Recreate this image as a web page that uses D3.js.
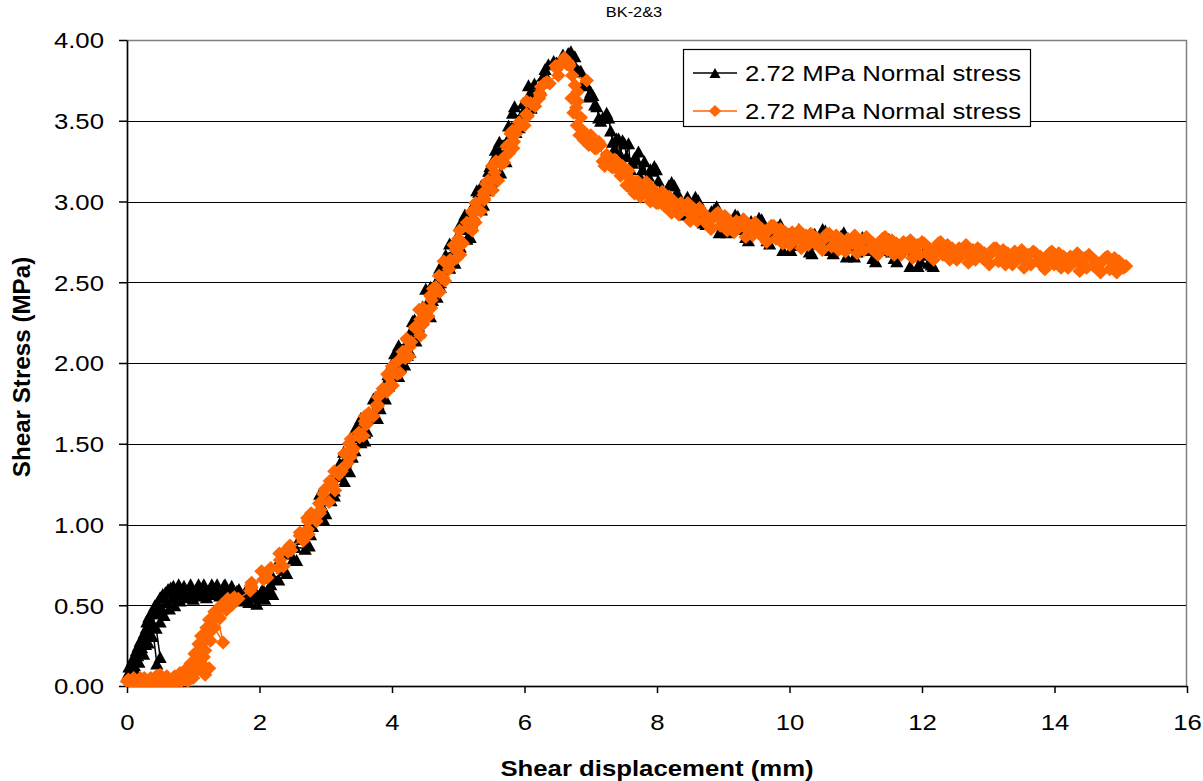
<!DOCTYPE html>
<html>
<head>
<meta charset="utf-8">
<script src="https://cdn.jsdelivr.net/npm/d3@7"></script>
<style>
  html, body { margin: 0; padding: 0; background: #fff; }
  svg { display: block; }
  text { font-family: Arial, "Liberation Sans", sans-serif; fill: #000; }
</style>
</head>
<body>
<svg id="chart" width="1203" height="781"></svg>
<script>
// ---- data (x = shear displacement mm, y = shear stress MPa) ----
const chartTitle = 'BK-2&3';
const seriesNames = ['2.72 MPa Normal stress', '2.72 MPa Normal stress'];
const xTicks = [0, 2, 4, 6, 8, 10, 12, 14, 16];
const yTicks = [0, 0.5, 1, 1.5, 2, 2.5, 3, 3.5, 4];

// black triangles
const blackSeating = [[0.00,0.06],[0.02,0.08],[0.03,0.12],[0.05,0.10],[0.06,0.04],[0.08,0.16],[0.10,0.18],[0.11,0.13],[0.12,0.10],[0.14,0.22],[0.16,0.19],[0.17,0.25],[0.18,0.15],[0.20,0.28],[0.22,0.24],[0.23,0.30],[0.25,0.20],[0.26,0.33],[0.28,0.26],[0.29,0.36],[0.32,0.27],[0.30,0.40],[0.34,0.33],[0.33,0.43],[0.38,0.31],[0.36,0.45],[0.45,0.14],[0.50,0.18],[0.44,0.36],[0.40,0.38],[0.42,0.50],[0.40,0.47],[0.50,0.40],[0.47,0.45],[0.50,0.55],[0.46,0.52],[0.56,0.44],[0.53,0.48],[0.58,0.58],[0.54,0.57],[0.64,0.48],[0.60,0.52],[0.66,0.61],[0.62,0.60],[0.72,0.50],[0.68,0.54],[0.76,0.60],[0.70,0.62],[0.80,0.53],[0.74,0.55],[0.86,0.62],[0.78,0.63],[0.90,0.55],[0.83,0.57],[0.96,0.63],[0.88,0.59],[1.00,0.54],[0.93,0.58],[1.06,0.61],[0.98,0.60],[1.10,0.56],[1.03,0.57],[1.16,0.63],[1.08,0.63],[1.20,0.55],[1.13,0.59],[1.26,0.60],[1.18,0.61],[1.30,0.57],[1.23,0.58],[1.36,0.63],[1.28,0.63],[1.40,0.56],[1.33,0.59],[1.46,0.62],[1.38,0.60],[1.50,0.55],[1.43,0.58],[1.56,0.60],[1.48,0.63],[1.60,0.54],[1.53,0.58],[1.66,0.59],[1.58,0.62],[1.72,0.53],[1.63,0.57],[1.78,0.58],[1.69,0.60],[1.84,0.52],[1.75,0.56],[1.90,0.57],[1.81,0.60],[1.96,0.51],[1.87,0.55],[2.02,0.58],[1.93,0.59],[2.08,0.54],[1.99,0.55],[2.14,0.61],[2.05,0.60],[2.20,0.57],[2.11,0.57],[2.17,0.63]];
const blackRise = [[2.29,0.66],[2.15,0.67],[2.21,0.67],[2.41,0.70],[2.37,0.72],[2.35,0.73],[2.31,0.79],[2.51,0.79],[2.56,0.78],[2.41,0.82],[2.54,0.86],[2.69,0.85],[2.75,0.87],[2.65,0.91],[2.61,0.92],[2.77,0.94],[2.80,0.99],[2.69,0.97],[2.72,0.98],[2.97,1.03],[2.87,1.06],[2.85,1.06],[3.00,1.07],[2.97,1.09],[2.93,1.12],[3.08,1.15],[2.91,1.19],[2.98,1.18],[3.13,1.18],[3.13,1.21],[3.10,1.26],[3.11,1.27],[3.28,1.27],[3.12,1.30],[3.16,1.32],[3.36,1.33],[3.30,1.39],[3.27,1.39],[3.21,1.38],[3.40,1.42],[3.44,1.46],[3.27,1.45],[3.40,1.47],[3.53,1.51],[3.59,1.52],[3.49,1.54],[3.44,1.59],[3.59,1.57],[3.62,1.58],[3.50,1.63],[3.53,1.66],[3.78,1.66],[3.69,1.67],[3.66,1.69],[3.82,1.72],[3.79,1.75],[3.75,1.79],[3.90,1.78],[3.72,1.78],[3.80,1.81],[3.95,1.86],[3.95,1.87],[3.92,1.87],[3.93,1.90],[4.10,1.92],[3.94,1.93],[3.99,1.99],[4.19,1.99],[4.13,1.98],[4.09,2.02],[4.04,2.06],[4.23,2.05],[4.27,2.07],[4.10,2.11],[4.22,2.12],[4.36,2.14],[4.41,2.19],[4.31,2.17],[4.26,2.18],[4.40,2.23],[4.43,2.26],[4.31,2.26],[4.34,2.27],[4.58,2.29],[4.48,2.32],[4.46,2.35],[4.61,2.39],[4.58,2.38],[4.54,2.38],[4.68,2.41],[4.51,2.46],[4.58,2.47],[4.73,2.47],[4.73,2.50],[4.69,2.52],[4.71,2.53],[4.87,2.59],[4.72,2.59],[4.76,2.58],[4.95,2.62],[4.90,2.66],[4.86,2.65],[4.81,2.67],[5.00,2.71],[5.03,2.72],[4.87,2.74],[4.99,2.79],[5.13,2.77],[5.18,2.78],[5.07,2.83],[5.03,2.86],[5.17,2.86],[5.20,2.87],[5.08,2.89],[5.10,2.92],[5.35,2.95],[5.25,2.99],[5.23,2.98],[5.38,2.98],[5.34,3.01],[5.31,3.06],[5.45,3.07],[5.28,3.07],[5.35,3.10],[5.49,3.12],[5.50,3.13],[5.46,3.19],[5.48,3.19],[5.64,3.18],[5.48,3.22],[5.53,3.26],[5.72,3.25],[5.66,3.27],[5.62,3.31],[5.56,3.32],[5.75,3.34],[5.78,3.39],[5.62,3.37],[5.74,3.38],[5.87,3.43],[5.92,3.46],[5.81,3.46],[5.76,3.47],[5.90,3.49],[5.93,3.52],[5.82,3.55],[5.85,3.59],[6.10,3.58],[6.01,3.58],[5.98,3.61],[6.14,3.66],[6.11,3.67],[6.08,3.67],[6.23,3.70],[6.06,3.72],[6.15,3.73],[6.30,3.79],[6.31,3.79],[6.29,3.78],[6.31,3.82],[6.48,3.86],[6.36,3.85],[6.44,3.87],[6.67,3.91],[6.66,3.92]];
const blackPeak = [[6.58,3.91],[6.70,3.93],[6.64,3.90]];
const blackDecay = [[6.76,3.90],[6.79,3.82],[6.82,3.81],[6.85,3.81],[6.88,3.73],[6.91,3.74],[6.94,3.72],[6.97,3.65],[7.00,3.68],[7.03,3.66],[7.06,3.60],[7.09,3.59],[7.12,3.52],[7.15,3.50],[7.18,3.52],[7.21,3.52],[7.24,3.55],[7.27,3.52],[7.30,3.44],[7.33,3.37],[7.36,3.33],[7.39,3.39],[7.42,3.39],[7.45,3.29],[7.48,3.38],[7.51,3.36],[7.54,3.28],[7.57,3.36],[7.60,3.20],[7.63,3.24],[7.66,3.27],[7.69,3.26],[7.72,3.31],[7.75,3.15],[7.78,3.20],[7.81,3.25],[7.84,3.13],[7.87,3.16],[7.90,3.20],[7.93,3.19],[7.96,3.22],[7.99,3.20],[8.02,3.13],[8.06,3.07]];
const blackTail = [[8.10,3.03],[8.14,3.05],[8.18,3.10],[8.22,3.12],[8.26,3.10],[8.30,3.06],[8.34,3.01],[8.38,2.94],[8.42,2.92],[8.46,3.03],[8.50,2.99],[8.54,2.95],[8.58,3.03],[8.62,3.01],[8.66,2.92],[8.70,2.87],[8.74,2.86],[8.78,2.91],[8.82,2.94],[8.86,2.95],[8.90,2.97],[8.94,2.81],[8.98,2.89],[9.02,2.91],[9.06,2.81],[9.10,2.83],[9.14,2.89],[9.18,2.92],[9.22,2.91],[9.26,2.87],[9.30,2.83],[9.34,2.78],[9.38,2.76],[9.42,2.88],[9.46,2.84],[9.50,2.82],[9.54,2.90],[9.58,2.89],[9.62,2.80],[9.66,2.76],[9.70,2.74],[9.74,2.80],[9.78,2.82],[9.82,2.84],[9.86,2.86],[9.90,2.70],[9.94,2.78],[9.98,2.80],[10.02,2.70],[10.06,2.73],[10.10,2.79],[10.14,2.83],[10.18,2.81],[10.22,2.78],[10.26,2.74],[10.30,2.69],[10.34,2.68],[10.38,2.80],[10.42,2.76],[10.46,2.74],[10.50,2.83],[10.54,2.82],[10.58,2.74],[10.62,2.70],[10.66,2.68],[10.70,2.74],[10.74,2.77],[10.78,2.79],[10.82,2.81],[10.86,2.66],[10.90,2.73],[10.94,2.76],[10.98,2.66],[11.02,2.69],[11.06,2.75],[11.10,2.78],[11.14,2.77],[11.18,2.74],[11.22,2.70],[11.26,2.65],[11.30,2.63],[11.34,2.75],[11.38,2.72],[11.42,2.70],[11.46,2.78],[11.50,2.77],[11.54,2.69],[11.58,2.65],[11.62,2.63],[11.66,2.69],[11.70,2.72],[11.74,2.74],[11.78,2.75],[11.82,2.60],[11.86,2.68],[11.90,2.71],[11.94,2.60],[11.98,2.63],[12.02,2.68],[12.06,2.67],[12.10,2.62],[12.14,2.61],[12.17,2.60]];

// orange diamonds
const orangeSeating = [[0.00,0.03],[0.02,0.04],[0.04,0.02],[0.06,0.02],[0.08,0.04],[0.10,0.05],[0.12,0.02],[0.14,0.03],[0.16,0.03],[0.18,0.02],[0.20,0.05],[0.22,0.04],[0.24,0.02],[0.26,0.05],[0.28,0.04],[0.30,0.02],[0.32,0.02],[0.34,0.04],[0.36,0.05],[0.38,0.02],[0.40,0.03],[0.42,0.05],[0.44,0.06],[0.46,0.03],[0.48,0.02],[0.50,0.07],[0.52,0.05],[0.54,0.02],[0.56,0.03],[0.58,0.04],[0.60,0.06],[0.62,0.05],[0.64,0.02],[0.66,0.03],[0.68,0.04],[0.70,0.05],[0.72,0.06],[0.74,0.02],[0.76,0.03],[0.78,0.06],[0.80,0.08],[0.82,0.03],[0.84,0.04],[0.86,0.07],[0.88,0.10],[0.90,0.05],[0.92,0.03],[0.96,0.14],[0.98,0.09],[1.00,0.05],[1.02,0.20],[1.04,0.16],[1.06,0.10],[1.08,0.26],[1.10,0.22],[1.12,0.14],[1.18,0.07],[1.24,0.11],[1.16,0.18],[1.12,0.31],[1.15,0.27],[1.18,0.22],[1.20,0.36],[1.22,0.32],[1.26,0.28],[1.24,0.41],[1.28,0.40],[1.32,0.36],[1.45,0.27],[1.36,0.44],[1.32,0.46],[1.40,0.42],[1.38,0.48],[1.42,0.50],[1.50,0.47],[1.46,0.50],[1.52,0.54],[1.58,0.50],[1.55,0.52],[1.62,0.55]];
const orangeRise = [[1.65,0.53],[1.60,0.54],[1.68,0.54],[1.86,0.59],[1.87,0.62],[1.88,0.61],[1.88,0.64],[2.06,0.66],[2.12,0.67],[2.03,0.71],[2.17,0.73],[2.28,0.73],[2.36,0.74],[2.31,0.78],[2.30,0.82],[2.43,0.83],[2.48,0.84],[2.42,0.85],[2.46,0.87],[2.66,0.90],[2.61,0.93],[2.61,0.95],[2.74,0.94],[2.73,0.97],[2.73,1.02],[2.86,1.02],[2.72,1.04],[2.78,1.07],[2.91,1.07],[2.92,1.09],[2.90,1.13],[2.92,1.14],[3.05,1.14],[2.96,1.19],[2.99,1.22],[3.14,1.21],[3.11,1.24],[3.09,1.26],[3.06,1.27],[3.20,1.31],[3.24,1.33],[3.13,1.33],[3.23,1.34],[3.33,1.38],[3.38,1.42],[3.31,1.43],[3.28,1.44],[3.40,1.45],[3.42,1.47],[3.35,1.50],[3.38,1.53],[3.57,1.55],[3.51,1.54],[3.50,1.57],[3.62,1.62],[3.60,1.62],[3.59,1.64],[3.72,1.67],[3.59,1.67],[3.65,1.69],[3.78,1.73],[3.79,1.74],[3.77,1.74],[3.79,1.79],[3.92,1.82],[3.83,1.81],[3.86,1.84],[4.01,1.86],[3.98,1.87],[3.96,1.91],[3.93,1.93],[4.08,1.93],[4.12,1.94],[4.00,1.98],[4.11,2.02],[4.20,2.03],[4.26,2.04],[4.18,2.05],[4.16,2.07],[4.27,2.10],[4.29,2.13],[4.22,2.15],[4.24,2.14],[4.43,2.17],[4.36,2.22],[4.34,2.22],[4.47,2.24],[4.44,2.27],[4.43,2.27],[4.55,2.29],[4.41,2.33],[4.47,2.34],[4.59,2.34],[4.60,2.39],[4.58,2.42],[4.59,2.41],[4.72,2.44],[4.62,2.46],[4.66,2.47],[4.80,2.51],[4.77,2.53],[4.75,2.53],[4.71,2.54],[4.86,2.58],[4.89,2.62],[4.78,2.63],[4.88,2.64],[4.98,2.65],[5.03,2.67],[4.96,2.70],[4.93,2.73],[5.05,2.75],[5.07,2.74],[5.00,2.77],[5.02,2.82],[5.21,2.82],[5.15,2.84],[5.13,2.87],[5.26,2.87],[5.23,2.89],[5.22,2.93],[5.34,2.94],[5.21,2.94],[5.26,2.99],[5.39,3.02],[5.39,3.01],[5.38,3.04],[5.39,3.06],[5.52,3.07],[5.42,3.11],[5.45,3.13],[5.60,3.13],[5.56,3.14],[5.55,3.18],[5.51,3.22],[5.65,3.23],[5.69,3.24],[5.57,3.25],[5.68,3.27],[5.77,3.30],[5.83,3.33],[5.75,3.35],[5.73,3.34],[5.84,3.37],[5.87,3.42],[5.79,3.42],[5.82,3.44],[6.00,3.47],[5.94,3.47],[5.92,3.49],[6.05,3.53],[6.03,3.54],[6.03,3.54],[6.16,3.59],[6.03,3.62],[6.09,3.61],[6.22,3.64],[6.24,3.66],[6.23,3.67],[6.25,3.71],[6.38,3.73],[6.30,3.73],[6.34,3.74],[6.51,3.78],[6.49,3.82],[6.49,3.83],[6.47,3.84],[6.64,3.85],[6.64,3.87]];
const orangePeak = [[6.56,3.86],[6.60,3.89],[6.66,3.86],[6.68,3.84],[6.72,3.78],[6.94,3.75],[6.76,3.72],[6.71,3.64],[6.80,3.68],[6.80,3.62],[6.74,3.55],[6.78,3.58],[6.85,3.52],[6.79,3.47],[6.83,3.41],[6.88,3.44],[6.90,3.38]];
const orangeDecay = [[6.94,3.37],[6.97,3.35],[7.00,3.41],[7.03,3.38],[7.06,3.33],[7.09,3.33],[7.12,3.37],[7.15,3.35],[7.18,3.25],[7.21,3.22],[7.24,3.29],[7.27,3.27],[7.30,3.22],[7.33,3.21],[7.36,3.26],[7.39,3.25],[7.42,3.19],[7.45,3.16],[7.48,3.22],[7.51,3.18],[7.54,3.10],[7.57,3.19],[7.60,3.14],[7.63,3.07],[7.66,3.05],[7.69,3.12],[7.72,3.12],[7.75,3.03],[7.78,3.06],[7.81,3.10],[7.84,3.12],[7.87,3.04],[7.90,3.00],[7.93,3.08],[7.96,3.05],[7.99,2.99],[8.02,2.99],[8.05,3.03]];
const orangeTail = [[8.08,3.06],[8.115,2.97],[8.15,3.00],[8.185,3.03],[8.22,2.93],[8.255,3.00],[8.29,2.96],[8.325,2.92],[8.36,2.99],[8.395,2.96],[8.43,2.95],[8.465,2.99],[8.50,2.88],[8.535,2.91],[8.57,2.95],[8.605,2.88],[8.64,2.96],[8.675,2.94],[8.71,2.88],[8.745,2.91],[8.78,2.85],[8.815,2.83],[8.85,2.90],[8.885,2.92],[8.92,2.93],[8.955,2.85],[8.99,2.88],[9.025,2.91],[9.06,2.82],[9.095,2.88],[9.13,2.85],[9.165,2.81],[9.20,2.88],[9.235,2.85],[9.27,2.85],[9.305,2.89],[9.34,2.78],[9.375,2.82],[9.41,2.85],[9.445,2.79],[9.48,2.87],[9.515,2.85],[9.55,2.80],[9.585,2.83],[9.62,2.77],[9.655,2.75],[9.69,2.82],[9.725,2.85],[9.76,2.85],[9.795,2.77],[9.83,2.81],[9.865,2.83],[9.90,2.74],[9.935,2.81],[9.97,2.78],[10.005,2.73],[10.04,2.81],[10.075,2.78],[10.11,2.77],[10.145,2.82],[10.18,2.71],[10.215,2.75],[10.25,2.79],[10.285,2.73],[10.32,2.80],[10.355,2.79],[10.39,2.74],[10.425,2.77],[10.46,2.72],[10.495,2.70],[10.53,2.77],[10.565,2.80],[10.60,2.80],[10.635,2.72],[10.67,2.76],[10.705,2.79],[10.74,2.70],[10.775,2.77],[10.81,2.73],[10.845,2.69],[10.88,2.77],[10.915,2.74],[10.95,2.74],[10.985,2.79],[11.02,2.68],[11.055,2.72],[11.09,2.76],[11.125,2.70],[11.16,2.78],[11.195,2.76],[11.23,2.71],[11.265,2.74],[11.30,2.69],[11.335,2.67],[11.37,2.74],[11.405,2.77],[11.44,2.78],[11.475,2.70],[11.51,2.73],[11.545,2.76],[11.58,2.67],[11.615,2.74],[11.65,2.71],[11.685,2.67],[11.72,2.75],[11.755,2.72],[11.79,2.71],[11.825,2.76],[11.86,2.65],[11.895,2.69],[11.93,2.73],[11.965,2.67],[12.00,2.75],[12.035,2.74],[12.07,2.68],[12.105,2.71],[12.14,2.66],[12.175,2.64],[12.21,2.71],[12.245,2.74],[12.28,2.75],[12.315,2.67],[12.35,2.70],[12.385,2.73],[12.42,2.64],[12.455,2.71],[12.49,2.68],[12.525,2.64],[12.56,2.71],[12.595,2.68],[12.63,2.68],[12.665,2.73],[12.70,2.62],[12.735,2.66],[12.77,2.70],[12.805,2.64],[12.84,2.71],[12.875,2.70],[12.91,2.65],[12.945,2.68],[12.98,2.63],[13.015,2.61],[13.05,2.68],[13.085,2.71],[13.12,2.71],[13.155,2.63],[13.19,2.67],[13.225,2.70],[13.26,2.61],[13.295,2.68],[13.33,2.65],[13.365,2.61],[13.40,2.69],[13.435,2.66],[13.47,2.65],[13.505,2.70],[13.54,2.59],[13.575,2.63],[13.61,2.67],[13.645,2.61],[13.68,2.69],[13.715,2.68],[13.75,2.63],[13.785,2.66],[13.82,2.60],[13.855,2.58],[13.89,2.65],[13.925,2.68],[13.96,2.69],[13.995,2.61],[14.03,2.65],[14.065,2.68],[14.10,2.59],[14.135,2.66],[14.17,2.63],[14.205,2.59],[14.24,2.66],[14.275,2.63],[14.31,2.63],[14.345,2.68],[14.38,2.57],[14.415,2.61],[14.45,2.65],[14.485,2.59],[14.52,2.67],[14.555,2.65],[14.59,2.60],[14.625,2.63],[14.66,2.58],[14.695,2.56],[14.73,2.63],[14.765,2.65],[14.80,2.66],[14.835,2.58],[14.87,2.62],[14.905,2.65],[14.94,2.56],[14.975,2.63],[15.01,2.59],[15.045,2.59],[15.08,2.60]];

const blackSeries = [].concat(blackSeating, blackRise, blackPeak, blackDecay, blackTail);
const orangeSeries = [].concat(orangeSeating, orangeRise, orangePeak, orangeDecay, orangeTail);

// ---- layout ----
const SX = 1.17; // the source picture is stretched sideways, so text is too
const plot = {left: 127, right: 1187, top: 40, bottom: 686};

const svg = d3.select('#chart');

const x = d3.scaleLinear().domain([0, 16]).range([plot.left, plot.right]);
const y = d3.scaleLinear().domain([0, 4]).range([plot.bottom, plot.top]);

// plot markers are a touch bigger than the legend ones
const markers = {
  triangle: {plot: 'M0,-6L6.6,6L-6.6,6Z', legend: 'M0,-5L5.5,5L-5.5,5Z'},
  diamond: {plot: 'M0,-7L7.2,0L0,7L-7.2,0Z', legend: 'M0,-6L6.2,0L0,6L-6.2,0Z'}
};

const series = [
  {name: seriesNames[0], data: blackSeries, color: '#000000', marker: markers.triangle},
  {name: seriesNames[1], data: orangeSeries, color: '#FF6600', marker: markers.diamond}
];

// plot area border (grey) and gridlines (black)
svg.append('rect')
  .attr('x', plot.left + 0.5).attr('y', plot.top + 0.5)
  .attr('width', plot.right - plot.left - 1).attr('height', plot.bottom - plot.top)
  .attr('fill', 'none').attr('stroke', '#808080').attr('stroke-width', 1.5);

svg.append('g')
  .selectAll('line')
  .data(yTicks.filter(d => d > 0 && d < 4))
  .join('line')
  .attr('x1', plot.left).attr('x2', plot.right - 1)
  .attr('y1', d => Math.round(y(d)) + 0.5).attr('y2', d => Math.round(y(d)) + 0.5)
  .attr('stroke', '#000').attr('stroke-width', 1.2);

// axes
const yAxisG = svg.append('g')
  .attr('transform', `translate(${plot.left},0)`)
  .call(d3.axisLeft(y).tickValues(yTicks).tickFormat(d3.format('.2f')).tickSize(8).tickSizeOuter(0));

const xAxisG = svg.append('g')
  .attr('transform', `translate(0,${plot.bottom})`)
  .call(d3.axisBottom(x).tickValues(xTicks).tickFormat(d3.format('d')).tickSize(7).tickSizeOuter(0));

[yAxisG, xAxisG].forEach(g => {
  g.attr('font-size', 22).attr('font-family', 'Arial, "Liberation Sans", sans-serif');
  g.select('.domain').attr('stroke', '#000').attr('stroke-width', 1.5);
  g.selectAll('.tick line').attr('stroke', '#000').attr('stroke-width', 1.5);
});

yAxisG.selectAll('.tick text')
  .attr('x', 0).attr('dy', '0.36em')
  .attr('transform', `translate(-23,0) scale(${SX},1)`);

xAxisG.selectAll('.tick text')
  .attr('y', 0).attr('dy', 0)
  .attr('transform', `translate(0,44) scale(${SX},1)`);

// titles
svg.append('text')
  .attr('transform', `translate(634,17) scale(${SX},1)`)
  .attr('text-anchor', 'middle')
  .attr('font-size', 14)
  .text(chartTitle);

svg.append('text')
  .attr('transform', `translate(${(plot.left + plot.right) / 2},776) scale(${SX},1)`)
  .attr('text-anchor', 'middle')
  .attr('font-size', 22).attr('font-weight', 'bold')
  .text('Shear displacement (mm)');

svg.append('text')
  .attr('transform', `translate(30,${(plot.top + plot.bottom) / 2 + 4}) rotate(-90) scale(1.1,1.05)`)
  .attr('text-anchor', 'middle')
  .attr('font-size', 22).attr('font-weight', 'bold')
  .text('Shear Stress (MPa)');

// series: line + markers, black first, orange on top
svg.append('clipPath').attr('id', 'clip')
  .append('rect').attr('x', 0).attr('y', 0).attr('width', 1203).attr('height', plot.bottom + 1);

const line = d3.line().x(d => x(d[0])).y(d => y(d[1]));

series.forEach(s => {
  const g = svg.append('g').attr('clip-path', 'url(#clip)');
  g.append('path')
    .datum(s.data)
    .attr('d', line)
    .attr('fill', 'none')
    .attr('stroke', s.color)
    .attr('stroke-width', 1.5);
  g.selectAll('path.mk')
    .data(s.data)
    .join('path')
    .attr('class', 'mk')
    .attr('d', s.marker.plot)
    .attr('transform', d => `translate(${x(d[0])},${y(d[1])})`)
    .attr('fill', s.color);
});

// legend
const legend = svg.append('g');
legend.append('rect')
  .attr('x', 683.5).attr('y', 49.5).attr('width', 347).attr('height', 77)
  .attr('fill', '#fff').attr('stroke', '#000').attr('stroke-width', 1.2);

series.forEach((s, i) => {
  const ly = 73 + i * 38;
  legend.append('line')
    .attr('x1', 693).attr('x2', 737).attr('y1', ly).attr('y2', ly)
    .attr('stroke', s.color).attr('stroke-width', 1.5);
  legend.append('path')
    .attr('d', s.marker.legend)
    .attr('transform', `translate(715,${ly})`)
    .attr('fill', s.color);
  legend.append('text')
    .attr('transform', `translate(745,${ly + 8}) scale(${SX},1)`)
    .attr('font-size', 22)
    .text(s.name);
});
</script>
</body>
</html>
